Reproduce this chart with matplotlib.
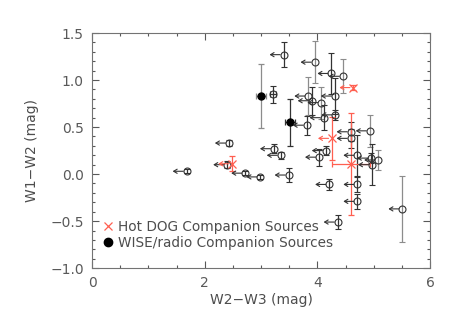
import numpy as np
import matplotlib.pyplot as plt
from matplotlib.ticker import MultipleLocator
from matplotlib.lines import Line2D

# open circles (companion candidates), mostly upper limits in W2-W3
ox = [3.40, 3.95, 4.25, 4.45, 3.21, 3.84, 3.90, 4.07, 4.31, 4.11, 4.32, 3.81,
      4.59, 4.93, 4.59, 2.43, 3.23, 3.35, 4.15, 4.03, 4.71, 4.95, 4.97, 5.08,
      2.40, 2.72, 2.99, 3.49, 1.68, 4.21, 4.71, 4.71, 4.36, 5.51]
oy = [1.27, 1.19, 1.07, 1.04, 0.85, 0.83, 0.78, 0.76, 0.83, 0.60, 0.63, 0.52,
      0.45, 0.46, 0.38, 0.33, 0.27, 0.20, 0.25, 0.18, 0.20, 0.17, 0.10, 0.15,
      0.10, 0.01, -0.03, -0.01, 0.03, -0.11, -0.11, -0.29, -0.51, -0.37]
oyerr = [0.13, 0.22, 0.22, 0.18, 0.09, 0.20, 0.15, 0.17, 0.19, 0.13, 0.05, 0.10,
         0.10, 0.17, 0.10, 0.03, 0.05, 0.04, 0.05, 0.09, 0.22, 0.05, 0.22, 0.11,
         0.04, 0.02, 0.02, 0.07, 0.02, 0.06, 0.08, 0.08, 0.07, 0.35]
olim = [1, 1, 1, 1, 0, 1, 1, 1, 1, 1, 1, 1,
        1, 1, 1, 1, 1, 1, 1, 1, 1, 1, 1, 1,
        1, 1, 1, 1, 1, 1, 1, 1, 1, 1]
ogrey = [0, 1, 0, 1, 0, 1, 0, 1, 0, 0, 0, 0,
         0, 1, 0, 0, 0, 0, 0, 0, 0, 0, 0, 1,
         0, 0, 0, 0, 0, 0, 0, 0, 0, 1]

# Hot DOG companion sources (red x)
rx = [4.64, 4.26, 4.60, 2.49]
ry = [0.92, 0.38, 0.11, 0.11]
ryerr = [0.03, 0.23, 0.54, 0.08]
rxerr = [0.0, 0.0, 0.34, 0.0]
rlim = [1, 1, 0, 1]

# WISE/radio companion sources (filled)
fx = [3.00, 3.51]
fy = [0.83, 0.55]
fyerr = [0.34, 0.25]
fxerr = [0.09, 0.09]

red = '#ff5f50'
dark = '0.2'
grey = '0.55'
L = 0.25

fig = plt.figure(figsize=(4.58, 3.27), dpi=100)
ax = fig.add_axes([0.201, 0.180, 0.738, 0.719])

def limit_arrow(x, y, c):
    ax.annotate('', xy=(x - L, y), xytext=(x, y),
                arrowprops=dict(arrowstyle='->,head_length=0.25,head_width=0.15',
                                color=c, lw=0.8, shrinkA=2.5, shrinkB=0))

for i in range(len(ox)):
    ec = grey if ogrey[i] else dark
    xe = 0.06 if not olim[i] else None
    ax.errorbar(ox[i], oy[i], yerr=oyerr[i], xerr=xe, fmt='o', ms=5,
                mfc='none', mec=dark, mew=0.8, ecolor=ec, elinewidth=0.9,
                capsize=2.2, capthick=0.9)
    if olim[i]:
        limit_arrow(ox[i], oy[i], dark)

for i in range(len(rx)):
    xe = rxerr[i] if rxerr[i] > 0 else None
    ax.errorbar(rx[i], ry[i], yerr=ryerr[i], xerr=xe, fmt='x', ms=5.5,
                mec=red, mew=0.9, ecolor=red, elinewidth=0.9,
                capsize=2.2, capthick=0.9)
    if rlim[i]:
        limit_arrow(rx[i], ry[i], red)

for i in range(len(fx)):
    ax.errorbar(fx[i], fy[i], yerr=fyerr[i], xerr=fxerr[i], fmt='o', ms=5,
                mfc='black', mec='black', ecolor=grey if i == 0 else dark,
                elinewidth=0.9, capsize=2.2, capthick=0.9)

ax.set_xlim(0, 6)
ax.set_ylim(-1.0, 1.5)
ax.xaxis.set_major_locator(MultipleLocator(2))
ax.xaxis.set_minor_locator(MultipleLocator(0.5))
ax.yaxis.set_major_locator(MultipleLocator(0.5))
ax.yaxis.set_minor_locator(MultipleLocator(0.1))
ax.tick_params(which='both', direction='in', top=True, right=True,
               colors='0.35', labelsize=10, width=0.8)
ax.tick_params(which='major', length=5, pad=6)
ax.tick_params(which='minor', length=2.5)
for s in ax.spines.values():
    s.set_color('0.45')
    s.set_linewidth(0.8)

ax.set_xlabel('W2\u2212W3 (mag)', fontsize=10, color='0.3', labelpad=2)
ax.set_ylabel('W1\u2212W2 (mag)', fontsize=10, color='0.3', labelpad=8)

handles = [Line2D([], [], ls='none', marker='x', ms=6, mec=red, mew=0.9),
           Line2D([], [], ls='none', marker='o', ms=6, mfc='black', mec='black')]
ax.legend(handles, ['Hot DOG Companion Sources', 'WISE/radio Companion Sources'],
          loc='lower left', bbox_to_anchor=(0.02, 0.055), frameon=False,
          fontsize=9.8, handlelength=0.6, handletextpad=0.4, labelspacing=0.15,
          borderaxespad=0, labelcolor='0.3')

fig.savefig('out.png', dpi=100)
